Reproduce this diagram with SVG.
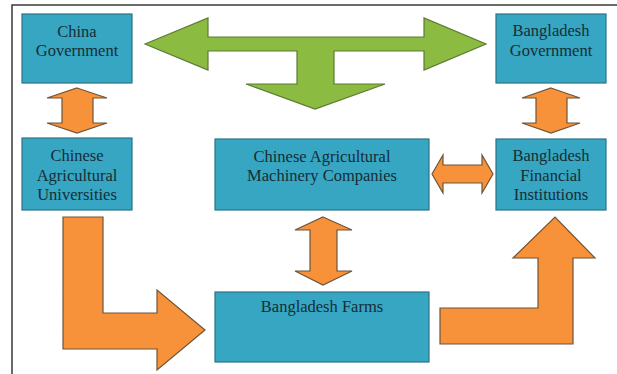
<svg xmlns="http://www.w3.org/2000/svg" width="617" height="374" viewBox="0 0 617 374">
<style>
.box{fill:#36a6c2;stroke:#2b7488;stroke-width:1.2}
.t{font-family:"Liberation Serif","Times New Roman",serif;font-size:16.5px;fill:#162d36;text-anchor:middle}
.or{fill:#f7923a;stroke:#6e5438;stroke-width:1.2;stroke-linejoin:miter}
.gr{fill:#8cbb41;stroke:#5b7a34;stroke-width:1.2}
.frame{fill:none;stroke:#3a3a3a;stroke-width:1.5}
</style>
<rect width="617" height="374" fill="#ffffff"/>
<path class="frame" d="M12,374 L12,5 L617,5"/>
<g id="connectors">
<path class="gr" d="M145,44 L208,18 L208,37 L424,37 L424,18 L486,44 L424,70 L424,51 L334,51 L334,84 L385,84 L315,109 L246,84 L297,84 L297,51 L208,51 L208,70 Z"/>
<path class="or" d="M77,88 L107,98 L93,98 L93,123 L107,123 L77,133 L47,123 L62,123 L62,98 L47,98 Z"/>
<path class="or" d="M551,88 L580,98 L567,98 L567,123 L580,123 L551,133 L522,123 L536,123 L536,98 L522,98 Z"/>
<path class="or" d="M323,217 L352,230 L337,230 L337,271 L352,271 L323,285 L295,271 L310,271 L310,230 L295,230 Z"/>
<path class="or" d="M432,174 L443,155 L443,165 L482,165 L482,155 L493,174 L482,193 L482,183 L443,183 L443,193 Z"/>
<path class="or" d="M63,217 L103,217 L103,313 L157,313 L157,290 L205,330 L157,370 L157,349 L63,349 Z"/>
<path class="or" d="M440,308 L538,308 L538,258 L513,258 L555,217 L595,258 L573,258 L573,344 L440,344 Z"/>
</g>
<g id="china-gov">
<rect class="box" x="22" y="14" width="110" height="69"/>
<text class="t" x="77" y="37">China</text>
<text class="t" x="77" y="56">Government</text>
</g>
<g id="bangladesh-gov">
<rect class="box" x="496" y="14" width="110" height="69"/>
<text class="t" x="551" y="36">Bangladesh</text>
<text class="t" x="551" y="56">Government</text>
</g>
<g id="universities">
<rect class="box" x="22" y="138" width="110" height="72"/>
<text class="t" x="77" y="161">Chinese</text>
<text class="t" x="77" y="181">Agricultural</text>
<text class="t" x="77" y="200">Universities</text>
</g>
<g id="machinery">
<rect class="box" x="215" y="139" width="214" height="71"/>
<text class="t" x="322" y="162">Chinese Agricultural</text>
<text class="t" x="322" y="181">Machinery Companies</text>
</g>
<g id="financial">
<rect class="box" x="496" y="139" width="110" height="71"/>
<text class="t" x="551" y="161">Bangladesh</text>
<text class="t" x="551" y="181">Financial</text>
<text class="t" x="551" y="200">Institutions</text>
</g>
<g id="farms">
<rect class="box" x="215" y="292" width="214" height="70"/>
<text class="t" x="322" y="312">Bangladesh Farms</text>
</g>
</svg>
